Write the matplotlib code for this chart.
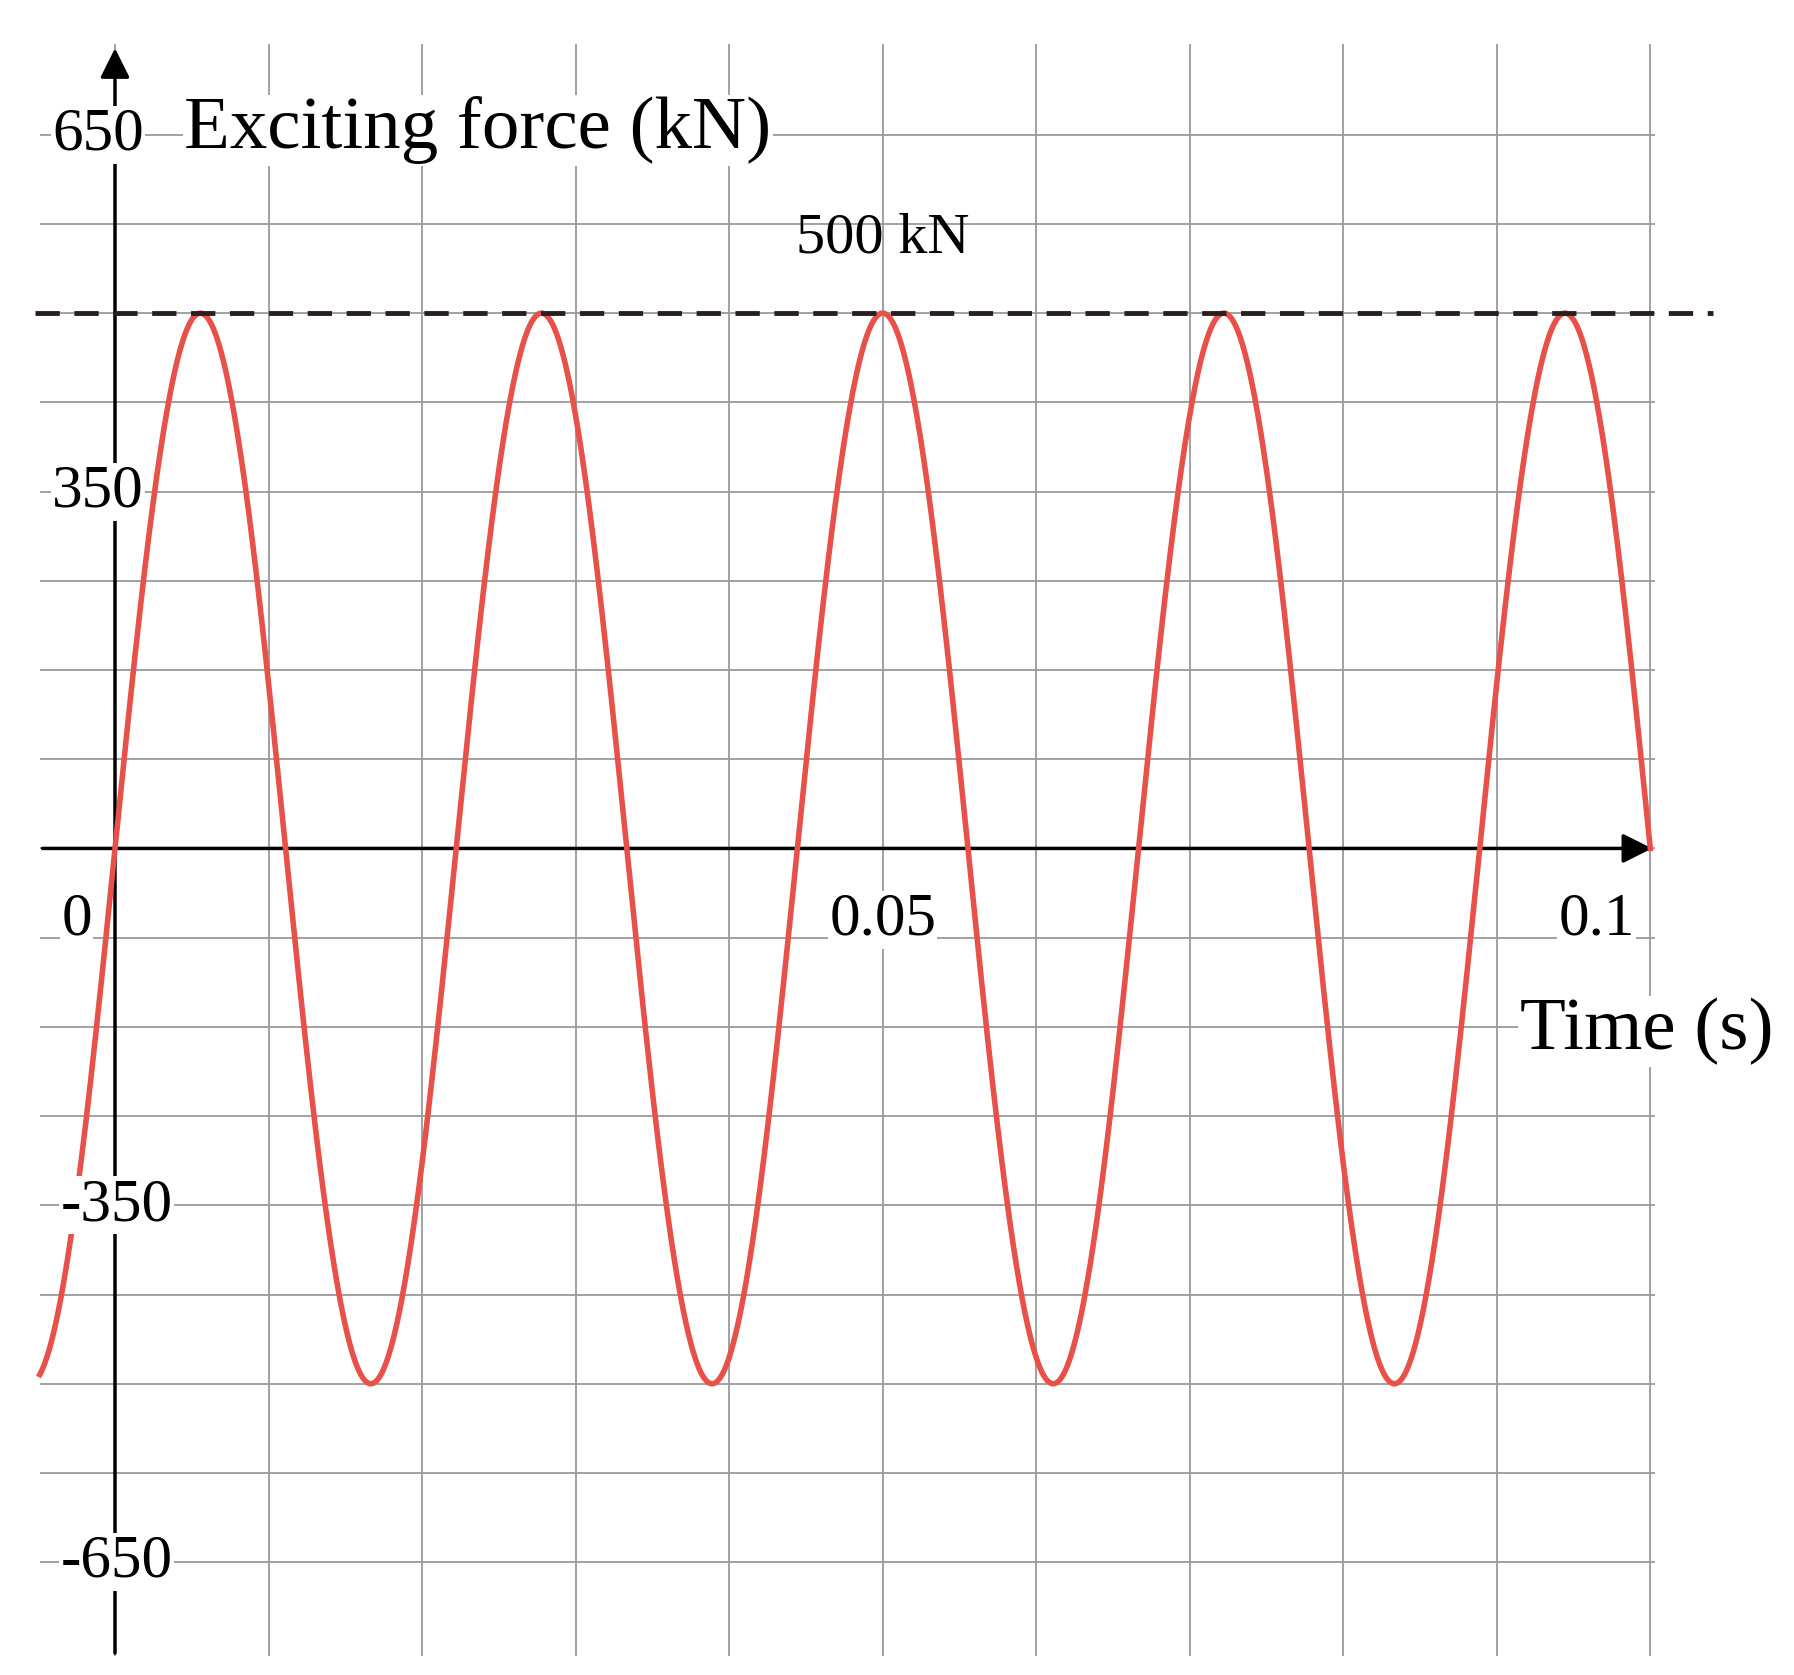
import numpy as np
import matplotlib.pyplot as plt

plt.rcParams['font.family'] = ['Liberation Serif', 'DejaVu Serif']

# data
amplitude = 500.0          # kN
freq = 45.0                # Hz
t_start, t_end = -0.0049, 0.1
step = amplitude / 6       # one grid step, kN
y_tick_pos = [8 * step, 4 * step, -4 * step, -8 * step]
y_tick_labels = ['650', '350', '-350', '-650']
x_ticks = [0, 0.05, 0.1]
x_tick_labels = ['0', '0.05', '0.1']
x_grid = np.arange(0, 0.1001, 0.01)
y_grid = np.arange(-8, 9) * step

t = np.linspace(t_start, t_end, 2000)
force = amplitude * np.sin(2 * np.pi * freq * t)

fig = plt.figure(figsize=(17.94, 16.75), dpi=100)
ax = fig.add_axes([0, 0, 1, 1])
ax.set_xlim(-0.00749, 0.10936)
ax.set_ylim(-9.265 * step, 9.51 * step)
ax.axis('off')

# grid
ax.vlines(x_grid, -9.05 * step, 9.02 * step, color='#9a9a9a', lw=1.3, zorder=1)
ax.hlines(y_grid, -0.0049, 0.1003, color='#9a9a9a', lw=1.3, zorder=1)

# axes with arrows
ax.annotate('', xy=(0.1003, 0), xytext=(-0.0049, 0),
            arrowprops=dict(arrowstyle='-|>', color='black', lw=2.5, mutation_scale=45), zorder=3)
ax.annotate('', xy=(0, 9.0 * step), xytext=(0, -9.05 * step),
            arrowprops=dict(arrowstyle='-|>', color='black', lw=2.5, mutation_scale=45), zorder=3)

# curve and peak line
ax.plot(t, force, color='#e8504a', lw=4, zorder=4)
ax.hlines(amplitude, -0.0052, 0.1041, colors='#2a1f1f', linestyles=(0, (5, 3)), lw=3.5, zorder=5)
ax.text(0.05, amplitude + 0.55 * step, '500 kN', fontsize=42, ha='center', va='bottom', zorder=6)

# tick labels
for v, s in zip(y_tick_pos, y_tick_labels):
    xx = -0.0011 if v > 0 else 0.0001
    ax.text(xx, v, s, fontsize=44, ha='center', va='center',
            bbox=dict(facecolor='white', edgecolor='none', pad=1), zorder=6)
for v, s in zip(x_ticks, x_tick_labels):
    xx = -0.0025 if v == 0 else (v - 0.0035 if v == 0.1 else v)
    ax.text(xx, -0.8 * step, s, fontsize=44, ha='center', va='center',
            bbox=dict(facecolor='white', edgecolor='none', pad=1), zorder=6)

ax.text(0.0045, 8.05 * step, 'Exciting force (kN)', fontsize=54, ha='left', va='center',
        bbox=dict(facecolor='white', edgecolor='none', pad=1), zorder=6)
ax.text(0.0915, -2.05 * step, 'Time (s)', fontsize=54, ha='left', va='center',
        bbox=dict(facecolor='white', edgecolor='none', pad=1), zorder=6)

fig.savefig('out.png', dpi=100)
